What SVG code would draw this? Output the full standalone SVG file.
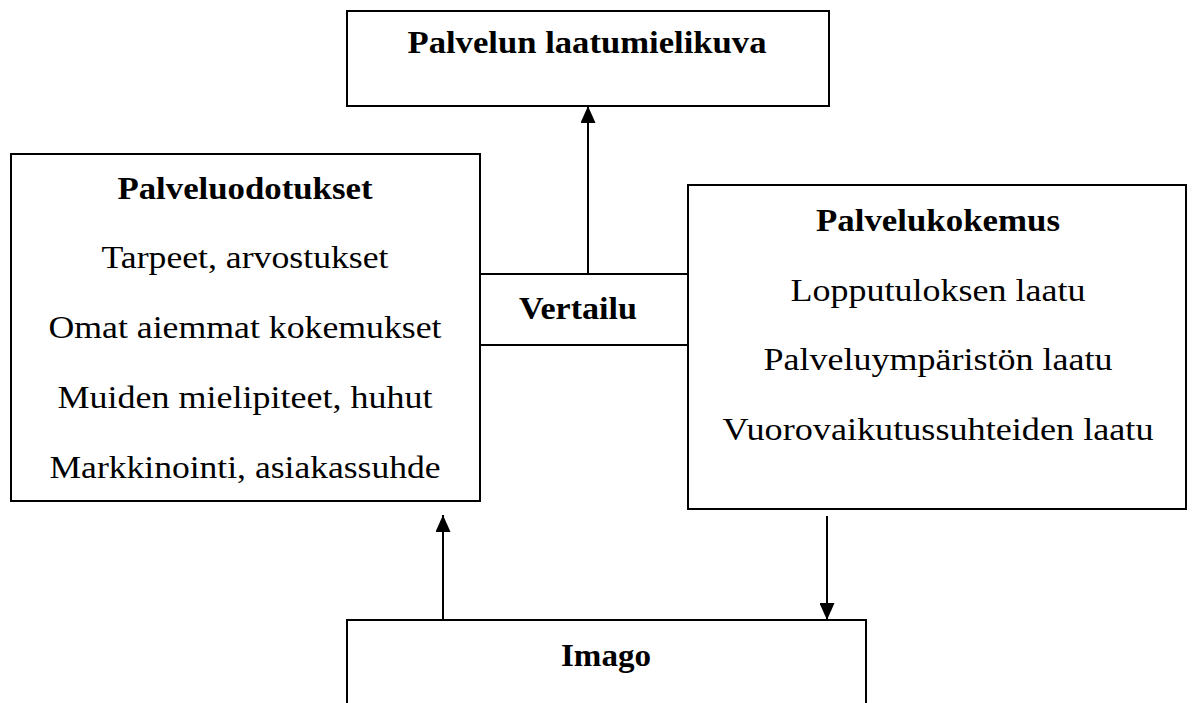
<svg xmlns="http://www.w3.org/2000/svg" width="1194" height="703" viewBox="0 0 1194 703">
<style>
.box{fill:#fff;stroke:#000;stroke-width:2}
.ln{fill:none;stroke:#000;stroke-width:2}
text{font-family:"Liberation Serif","Times New Roman",serif;font-size:32px;fill:#000;text-anchor:middle}
.b{font-weight:bold}
</style>
<defs>
<marker id="ah" markerUnits="userSpaceOnUse" markerWidth="17" markerHeight="15" refX="17" refY="7.5" orient="auto" viewBox="0 0 17 15">
<path d="M0,0 L17,7.5 L0,15 Z" fill="#000"/>
</marker>
</defs>
<rect width="1194" height="703" fill="#fff"/>
<g id="connectors">
<line class="ln" x1="479" y1="274" x2="689" y2="274"/>
<line class="ln" x1="479" y1="345" x2="689" y2="345"/>
<line class="ln" x1="588" y1="274" x2="588" y2="106" marker-end="url(#ah)"/>
<line class="ln" x1="443" y1="620" x2="443" y2="515" marker-end="url(#ah)"/>
<line class="ln" x1="827" y1="516" x2="827" y2="620" marker-end="url(#ah)"/>
</g>
<g id="laatumielikuva">
<rect class="box" x="347" y="11" width="482" height="95"/>
<text class="b" x="587" y="53" textLength="359" lengthAdjust="spacingAndGlyphs">Palvelun laatumielikuva</text>
</g>
<g id="odotukset">
<rect class="box" x="11" y="154" width="469" height="347"/>
<text class="b" x="245" y="199" textLength="255" lengthAdjust="spacingAndGlyphs">Palveluodotukset</text>
<text x="245" y="268" textLength="287" lengthAdjust="spacingAndGlyphs">Tarpeet, arvostukset</text>
<text x="245" y="338" textLength="393" lengthAdjust="spacingAndGlyphs">Omat aiemmat kokemukset</text>
<text x="245" y="408" textLength="375" lengthAdjust="spacingAndGlyphs">Muiden mielipiteet, huhut</text>
<text x="245" y="478" textLength="391" lengthAdjust="spacingAndGlyphs">Markkinointi, asiakassuhde</text>
</g>
<g id="vertailu">
<text class="b" x="578" y="319" textLength="118" lengthAdjust="spacingAndGlyphs">Vertailu</text>
</g>
<g id="kokemus">
<rect class="box" x="688" y="185" width="498" height="324"/>
<text class="b" x="938" y="231" textLength="244" lengthAdjust="spacingAndGlyphs">Palvelukokemus</text>
<text x="938" y="301" textLength="295" lengthAdjust="spacingAndGlyphs">Lopputuloksen laatu</text>
<text x="938" y="370" textLength="349" lengthAdjust="spacingAndGlyphs">Palveluympäristön laatu</text>
<text x="938" y="440" textLength="431" lengthAdjust="spacingAndGlyphs">Vuorovaikutussuhteiden laatu</text>
</g>
<g id="imago">
<path class="box" d="M347,704 V620 H866 V704"/>
<text class="b" x="606" y="666" textLength="90" lengthAdjust="spacingAndGlyphs">Imago</text>
</g>
</svg>
